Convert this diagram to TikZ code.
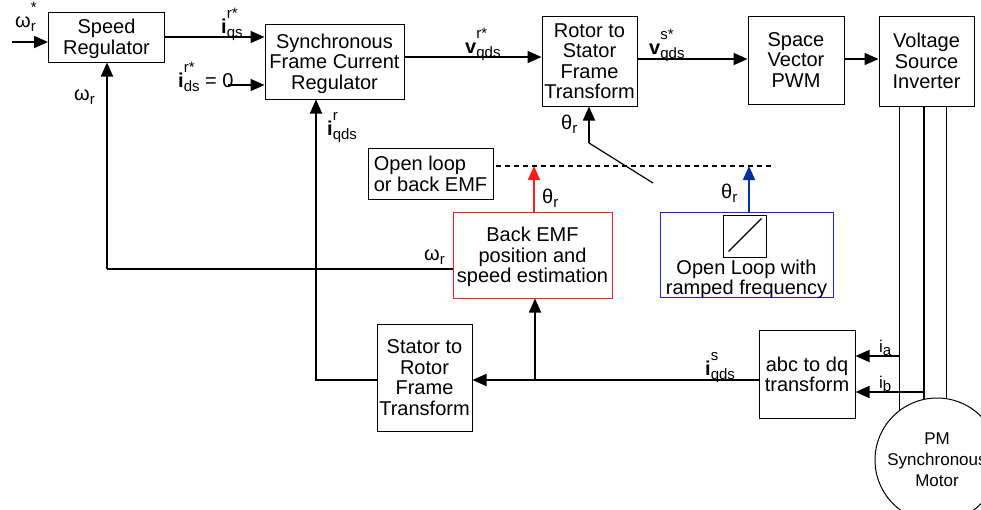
\documentclass[tikz,border=0pt]{standalone}
\usepackage{fontspec}
\setmainfont{Liberation Sans}
\usetikzlibrary{arrows.meta}
\definecolor{estred}{RGB}{250,30,30}
\definecolor{olblue}{RGB}{30,30,235}
\definecolor{olnavy}{RGB}{0,48,160}
\newcommand{\scr}{\fontsize{15}{15}\selectfont}
\newcommand{\supsub}[3]{#1\rlap{\raisebox{0.72em}{\scr #2}}\raisebox{-0.22em}{\scr #3}}

\begin{document}
\begin{tikzpicture}[x=1pt, y=-1pt,
  block/.style={draw=black, line width=1pt, inner sep=0pt, align=center, text depth=0pt, font=\fontsize{20}{20.5}\selectfont},
  sig/.style={line width=1.8pt, -{Triangle[length=14pt, width=12pt]}},
  wire/.style={line width=1.2pt},
  lbl/.style={anchor=base west, inner sep=0pt, font=\fontsize{20}{20}\selectfont}]
\useasboundingbox (0,0) rectangle (981,509);
\node[block, minimum width=116, minimum height=50] (speed) at (106.5,37) {Speed\\Regulator};
\node[block, minimum width=139, minimum height=75] (sync) at (334.5,61.5) {Synchronous\\Frame Current\\Regulator};
\node[block, minimum width=95, minimum height=90] (rotor) at (589.5,61) {Rotor to\\Stator\\Frame\\Transform};
\node[block, minimum width=96, minimum height=88] (svpwm) at (796,60) {Space\\Vector\\PWM};
\node[block, minimum width=95, minimum height=90] (vsi) at (926.5,61) {Voltage\\Source\\Inverter};
\node[block, minimum width=125, minimum height=51, align=left] (olsel) at (430.5,173.5) {Open loop\\or back EMF};
\node[block, draw=estred, minimum width=159, minimum height=86] (bemf) at (532.5,255) {Back EMF\\position and\\speed estimation};
\node[block, draw=olblue, minimum width=173, minimum height=85] (ramp) at (746.5,254.5) {};
\node[block, minimum width=43, minimum height=42] (rampicon) at (744.5,236) {};
\node[font=\fontsize{20}{20.5}\selectfont, align=center, inner sep=0pt] (ramptext) at (746.5,279.5) {Open Loop with\\ramped frequency};
\node[block, minimum width=95, minimum height=107] (stator) at (424.5,377.5) {Stator to\\Rotor\\Frame\\Transform};
\node[block, minimum width=96, minimum height=88] (abc) at (807,374) {abc to dq\\transform};
\node[block, circle, minimum size=124, font=\fontsize{17}{21}\selectfont] (motor) at (937,460) {PM\\Synchronous\\Motor};
\coordinate (wref) at (12,42);
\coordinate (idsref) at (228,85);
\coordinate (wfb) at (107,269);
\coordinate (ifb) at (316,380);
\coordinate (split) at (535,380);
\coordinate (pivot) at (589,143);
\coordinate (swend) at (653,183);
\coordinate (dashl) at (496,166);
\coordinate (dashr) at (775,166);
\coordinate (ia) at (899,356);
\coordinate (ib) at (924,392);
\draw[wire] ([shift={(6,-6)}]rampicon.south west) -- ([shift={(-5,4)}]rampicon.north east);
\draw[sig] (wref) -- (wref -| speed.west);
\draw[sig] (speed.east) -- (speed.east -| sync.west);
\draw[sig] (idsref) -- (idsref -| sync.west);
\draw[sig] ([yshift=4.5pt]sync.east) -- ([yshift=4.5pt]sync.east -| rotor.west);
\draw[sig] ([yshift=2pt]rotor.east) -- ([yshift=2pt]rotor.east -| svpwm.west);
\draw[sig] ([yshift=1pt]svpwm.east) -- ([yshift=1pt]svpwm.east -| vsi.west);
\draw[wire] (vsi.south -| motor.127.8) -- (motor.127.8);
\draw[wire] (vsi.south -| motor.102.1) -- (motor.102.1);
\draw[wire] (vsi.south -| motor.81.6) -- (motor.81.6);
\draw[sig] (ia) -- (ia -| abc.east);
\draw[sig] (ib) -- (ib -| abc.east);
\draw[sig] ([yshift=-6pt]abc.west) -- ([yshift=-6pt]abc.west -| stator.east);
\draw[sig] (split) -- (split |- bemf.south);
\draw[sig] (stator.west |- ifb) -- (ifb) -- (ifb |- sync.south);
\draw[wire] (bemf.west |- wfb) -- (wfb);
\draw[sig] (wfb) -- (wfb |- speed.south);
\draw[sig, estred] ([xshift=1.5pt]bemf.north) -- ([xshift=1.5pt]bemf.north |- dashl);
\draw[sig, olnavy] ([xshift=2.5pt]ramp.north) -- ([xshift=2.5pt]ramp.north |- dashr);
\draw[wire, dash pattern=on 5pt off 4pt] (dashl) -- (dashr);
\draw[wire] (swend) -- (pivot);
\draw[sig] (pivot) -- (pivot |- rotor.south);
\node[lbl] (lwref) at (15,27) {\supsub{ω}{*}{r}};
\node[lbl] (liqs) at (221,33) {\supsub{\textbf{i}}{r*}{qs}};
\node[lbl] (lids) at (178,87) {\supsub{\textbf{i}}{r*}{ds} = 0};
\node[lbl] (lvr) at (465,53) {\supsub{\textbf{v}}{r*}{qds}};
\node[lbl] (lvs) at (649,54) {\supsub{\textbf{v}}{s*}{qds}};
\node[lbl] (lthrot) at (561,129) {\supsub{θ}{}{r}};
\node[lbl] (liqdsr) at (327,135) {\supsub{\textbf{i}}{r}{qds}};
\node[lbl] (lwsp) at (74,100) {\supsub{ω}{}{r}};
\node[lbl] (lwest) at (424,260) {\supsub{ω}{}{r}};
\node[lbl] (lthest) at (542,203) {\supsub{θ}{}{r}};
\node[lbl] (lthol) at (721,198) {\supsub{θ}{}{r}};
\node[lbl] (liqdss) at (705,375) {\supsub{\textbf{i}}{s}{qds}};
\node[lbl, font=\fontsize{17}{17}\selectfont] (lia) at (879,352) {\supsub{i}{}{a}};
\node[lbl, font=\fontsize{17}{17}\selectfont] (lib) at (879,388) {\supsub{i}{}{b}};
\end{tikzpicture}
\end{document}
